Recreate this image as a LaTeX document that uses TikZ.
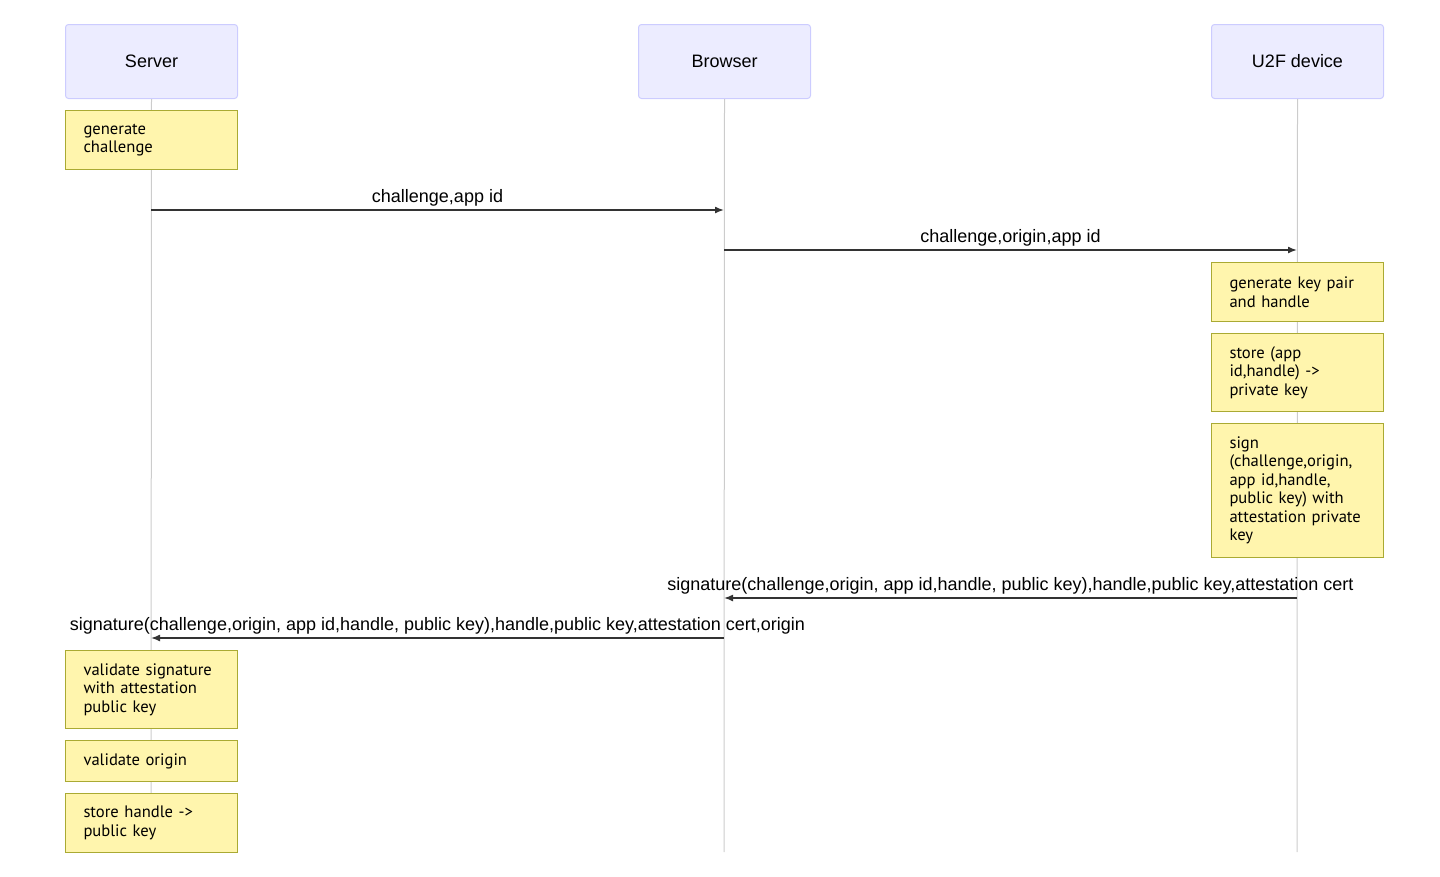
\documentclass[tikz,border=0pt]{standalone}
\usepackage{fontspec}
\setmainfont{Liberation Sans}
\newfontfamily\notefont{PT Sans}
\usetikzlibrary{arrows.meta}
\definecolor{actorfill}{HTML}{ECECFF}
\definecolor{actorline}{HTML}{CCCCFF}
\definecolor{notefill}{HTML}{FFF5AD}
\definecolor{noteline}{HTML}{AAAA33}
\definecolor{lifeline}{HTML}{CCCCCC}
\definecolor{msgline}{HTML}{333333}
\tikzset{
  actor/.style={draw=actorline, fill=actorfill, rounded corners=3pt, line width=1pt,
    minimum width=172pt, minimum height=74pt, anchor=north west, inner sep=0pt,
    font=\fontsize{18pt}{21pt}\selectfont},
  note/.style={draw=noteline, fill=notefill, line width=1pt, minimum width=172pt,
    anchor=north west, inner xsep=18pt, inner ysep=0pt, align=left,
    text width=136pt, font=\notefont\fontsize{16.6pt}{18.5pt}\selectfont},
  life/.style={draw=lifeline, line width=1pt},
  msg/.style={draw=msgline, line width=1.5pt, -{Latex[length=9pt,width=7pt]}},
  msglabel/.style={font=\fontsize{18pt}{21pt}\selectfont, inner sep=0pt, anchor=base}
}
\begin{document}
\begin{tikzpicture}[x=1pt,y=-1pt]
\useasboundingbox (0,0) rectangle (1440,876);

% participants
\node[actor] (server) at (65,24) {Server};
\node[actor] (browser) at (638,24) {Browser};
\node[actor] (device) at (1211,24) {U2F device};

% lifeline ends
\coordinate (serverend) at (151,852);
\coordinate (browserend) at (724,852);
\coordinate (deviceend) at (1297,852);
\draw[life] (server.south) -- (serverend);
\draw[life] (browser.south) -- (browserend);
\draw[life] (device.south) -- (deviceend);

% notes on the server
\node[note, minimum height=59pt] (n1) at (65,110) {generate\\challenge};

% notes on the device
\node[note, minimum height=59pt] (n2) at (1211,262) {generate key pair\\and handle};
\node[note, minimum height=78pt] (n3) at (1211,333) {store (app\\id,handle) ->\\private key};
\node[note, minimum height=134pt] (n4) at (1211,423) {sign\\(challenge,origin,\\app id,handle,\\public key) with\\attestation private\\key};

% notes after verification
\node[note, minimum height=78pt] (n5) at (65,650) {validate signature\\with attestation\\public key};
\node[note, minimum height=41pt] (n6) at (65,740) {validate origin};
\node[note, minimum height=59pt] (n7) at (65,793) {store handle ->\\public key};

% message end points on the lifelines
\coordinate (m1a) at (151,210);
\coordinate (m1b) at (724,210);
\coordinate (m2a) at (724,250);
\coordinate (m2b) at (1297,250);
\coordinate (m3a) at (1297,598);
\coordinate (m3b) at (724,598);
\coordinate (m4a) at (724,638);
\coordinate (m4b) at (151,638);

\draw[msg] (m1a) -- (m1b);
\draw[msg] (m2a) -- (m2b);
\draw[msg] (m3a) -- (m3b);
\draw[msg] (m4a) -- (m4b);

\node[msglabel] (l1) at (437.5,202) {challenge,app id};
\node[msglabel] (l2) at (1010.5,242) {challenge,origin,app id};
\node[msglabel] (l3) at (1010.5,590) {signature(challenge,origin, app id,handle, public key),handle,public key,attestation cert};
\node[msglabel] (l4) at (437.5,630) {signature(challenge,origin, app id,handle, public key),handle,public key,attestation cert,origin};
\end{tikzpicture}
\end{document}
